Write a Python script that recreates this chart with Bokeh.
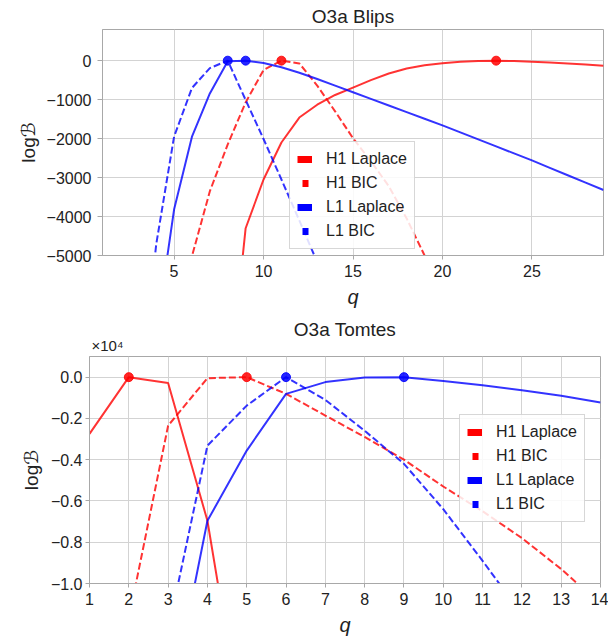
from bokeh.plotting import figure
from bokeh.models import (FixedTicker, CustomJSTickFormatter, Legend, LegendItem,
                          Range1d, Title)
from bokeh.embed import file_html
from bokeh.resources import INLINE

FONT = "Liberation Sans"
LABFONT = "'Liberation Sans', 'DejaVu Sans', sans-serif"
RED = "#ff0000"
BLUE = "#0000ff"

# ---------------- O3a Blips (top) ----------------
blips_q_h1_laplace = [8, 9, 10, 11, 12, 13, 14, 15, 16, 17, 18, 19, 20, 21, 22, 23, 24, 25, 26, 27, 28, 29]
blips_h1_laplace = [-8700, -4300, -3050, -2100, -1460, -1130, -880, -690, -500, -330, -200, -120,
                    -65, -30, -8, 0, -8, -26, -50, -75, -100, -128]
blips_q_h1_bic = [5, 6, 7, 8, 9, 10, 11, 12, 13, 14, 15, 16, 17, 18, 19, 20]
blips_h1_bic = [-8000, -5020, -3350, -2150, -1070, -240, 0, -70, -640, -1300, -1990, -2580,
                -3220, -4050, -5000, -6000]
blips_q_l1_laplace = [4, 5, 6, 7, 8, 9, 10, 11, 12, 13, 14, 15, 16, 17, 18, 19, 20, 21, 22, 23,
                      24, 25, 26, 27, 28, 29]
blips_l1_laplace = [-7000, -3820, -1950, -840, -15, 0, -60, -170, -310, -470, -640, -810, -980,
                    -1150, -1320, -1490, -1660, -1840, -2020, -2200, -2380, -2560, -2750, -2940,
                    -3130, -3320]
blips_q_l1_bic = [3, 4, 5, 6, 7, 8, 9, 10, 11, 12, 13, 14]
blips_l1_bic = [-9000, -4720, -1950, -700, -190, 0, -1010, -2010, -3050, -4100, -5170, -6250]
blips_xticks = [5, 10, 15, 20, 25]
blips_yticks = [0, -1000, -2000, -3000, -4000, -5000]

# ---------------- O3a Tomtes (bottom) ----------------
tomtes_q_h1_laplace = [1, 2, 3, 4, 5]
tomtes_h1_laplace = [-2750, 0, -280, -6960, -18400]
tomtes_q_h1_bic = [2, 3, 4, 5, 6, 7, 8, 9, 10, 11, 12, 13, 14]
tomtes_h1_bic = [-11700, -2350, -50, 0, -810, -1860, -2900, -4000, -5300, -6500, -7800, -9300, -11000]
tomtes_q_l1_laplace = [3, 4, 5, 6, 7, 8, 9, 10, 11, 12, 13, 14]
tomtes_l1_laplace = [-16500, -6960, -3560, -810, -240, -20, 0, -190, -390, -630, -900, -1230]
tomtes_q_l1_bic = [3, 4, 5, 6, 7, 8, 9, 10, 11, 12]
tomtes_l1_bic = [-12300, -3320, -1380, 0, -1100, -2600, -4200, -6400, -8900, -11500]
tomtes_xticks = [1, 2, 3, 4, 5, 6, 7, 8, 9, 10, 11, 12, 13, 14]
tomtes_yticks = [0, -2000, -4000, -6000, -8000, -10000]
tomtes_scale_text = "\u00d710\u2074"

labels = ["H1 Laplace", "H1 BIC", "L1 Laplace", "L1 BIC"]

GRID = "#d3d3d3"
SPINE = "#a8a8a8"
TXT = "#222222"


def peak(qs, vals):
    i = max(range(len(vals)), key=lambda k: vals[k])
    return [qs[i]], [vals[i]]


def make_fig(title, series, xr, yr, xticks, yticks, fw, fh, left, right, top, bottom,
             yfmt, ytick_out, ylabel_pad, ylab_standoff, leg_loc, title_standoff):
    p = figure(frame_width=fw, frame_height=fh, x_range=Range1d(*xr), y_range=Range1d(*yr),
               output_backend="svg", toolbar_location=None,
               min_border_left=left, min_border_right=right, min_border_top=top,
               min_border_bottom=bottom)
    p.title.text = title
    p.title.align = "center"
    p.title.text_font = FONT
    p.title.text_font_size = "19px"
    p.title.text_font_style = "normal"
    p.title.text_color = TXT
    p.title.standoff = title_standoff
    p.outline_line_color = SPINE
    p.outline_line_width = 1
    for ax in (p.xaxis[0], p.yaxis[0]):
        ax.axis_line_color = SPINE
        ax.major_tick_line_color = SPINE
        ax.major_tick_in = 0
        ax.minor_tick_line_color = None
        ax.major_label_text_font = FONT
        ax.major_label_text_font_size = "16px"
        ax.major_label_text_color = TXT
        ax.axis_label_text_font = LABFONT
        ax.axis_label_text_font_size = "20px"
        ax.axis_label_text_color = TXT
    p.xaxis.major_tick_out = 4
    p.xaxis.major_label_standoff = 5
    p.yaxis.major_tick_out = ytick_out
    p.yaxis.major_label_standoff = ylabel_pad
    p.xaxis.ticker = FixedTicker(ticks=xticks)
    p.yaxis.ticker = FixedTicker(ticks=yticks)
    p.xaxis.formatter = CustomJSTickFormatter(code="return tick.toString();")
    p.yaxis.formatter = CustomJSTickFormatter(code=yfmt)
    p.xaxis.axis_label = "q"
    p.xaxis.axis_label_text_font_style = "italic"
    p.xaxis.axis_label_standoff = 6
    p.yaxis.axis_label = "log\u212C"
    p.yaxis.axis_label_text_font_style = "normal"
    p.yaxis.axis_label_text_font_size = "19px"
    p.yaxis.axis_label_standoff = ylab_standoff
    p.xgrid.grid_line_color = GRID
    p.ygrid.grid_line_color = GRID
    p.xgrid.ticker = FixedTicker(ticks=xticks)
    p.ygrid.ticker = FixedTicker(ticks=yticks)

    for (qs, vals, color, dash) in series:
        p.line(qs, vals, line_color=color, line_width=2, line_alpha=0.8,
               line_dash=("7 3" if dash else "solid"))
        px, py = peak(qs, vals)
        p.scatter(px, py, size=9, fill_color=color, line_color=color, fill_alpha=0.85,
                  line_alpha=0.85)

    items = []
    for lab, (qs, vals, color, dash) in zip(labels, series):
        # single-point proxy: draws nothing in the plot, only the legend handle
        proxy = p.line(x=qs[:1], y=vals[:1], line_color=color, line_width=7,
                       line_dash=("0 5 6 20" if dash else "solid"))
        items.append(LegendItem(label=lab, renderers=[proxy]))
    leg = Legend(items=items, location=leg_loc)
    leg.label_text_font = FONT
    leg.label_text_font_size = "16px"
    leg.label_text_color = TXT
    leg.glyph_width = 15
    leg.glyph_height = 20
    leg.label_height = 20
    leg.spacing = 4
    leg.padding = 7
    leg.margin = 0
    leg.label_standoff = 14
    leg.border_line_color = "#b0b0b0"
    leg.border_line_width = 1
    leg.background_fill_color = "white"
    leg.background_fill_alpha = 0.85
    p.add_layout(leg, "center")
    return p


fmt_top = "return tick < 0 ? '\\u2212' + Math.abs(tick) : tick.toString();"
fmt_bot = ("var v = tick / 1e4; var s = Math.abs(v).toFixed(1);"
           "return v < -1e-9 ? '\\u2212' + s : s;")

p1 = make_fig("O3a Blips",
              [(blips_q_h1_laplace, blips_h1_laplace, RED, False),
               (blips_q_h1_bic, blips_h1_bic, RED, True),
               (blips_q_l1_laplace, blips_l1_laplace, BLUE, False),
               (blips_q_l1_bic, blips_l1_bic, BLUE, True)],
              (1, 29), (-5000, 800), blips_xticks, blips_yticks,
              501, 226, 102, 4, 25, 59, fmt_top, 5, 6, 5, (187, 6), 6)

p2 = make_fig("O3a Tomtes",
              [(tomtes_q_h1_laplace, tomtes_h1_laplace, RED, False),
               (tomtes_q_h1_bic, tomtes_h1_bic, RED, True),
               (tomtes_q_l1_laplace, tomtes_l1_laplace, BLUE, False),
               (tomtes_q_l1_bic, tomtes_l1_bic, BLUE, True)],
              (1, 14), (-10000, 1000), tomtes_xticks, tomtes_yticks,
              511, 227, 89, 8, 42, 51, fmt_bot, 4, 3, 6, (370, 61), -14)

p2.add_layout(Title(text=tomtes_scale_text, align="left", text_font=FONT,
                    text_font_size="15px", text_font_style="normal", text_color=TXT,
                    standoff=5, offset=2), "above")

open("out.html", "w").write(file_html([p1, p2], INLINE))
